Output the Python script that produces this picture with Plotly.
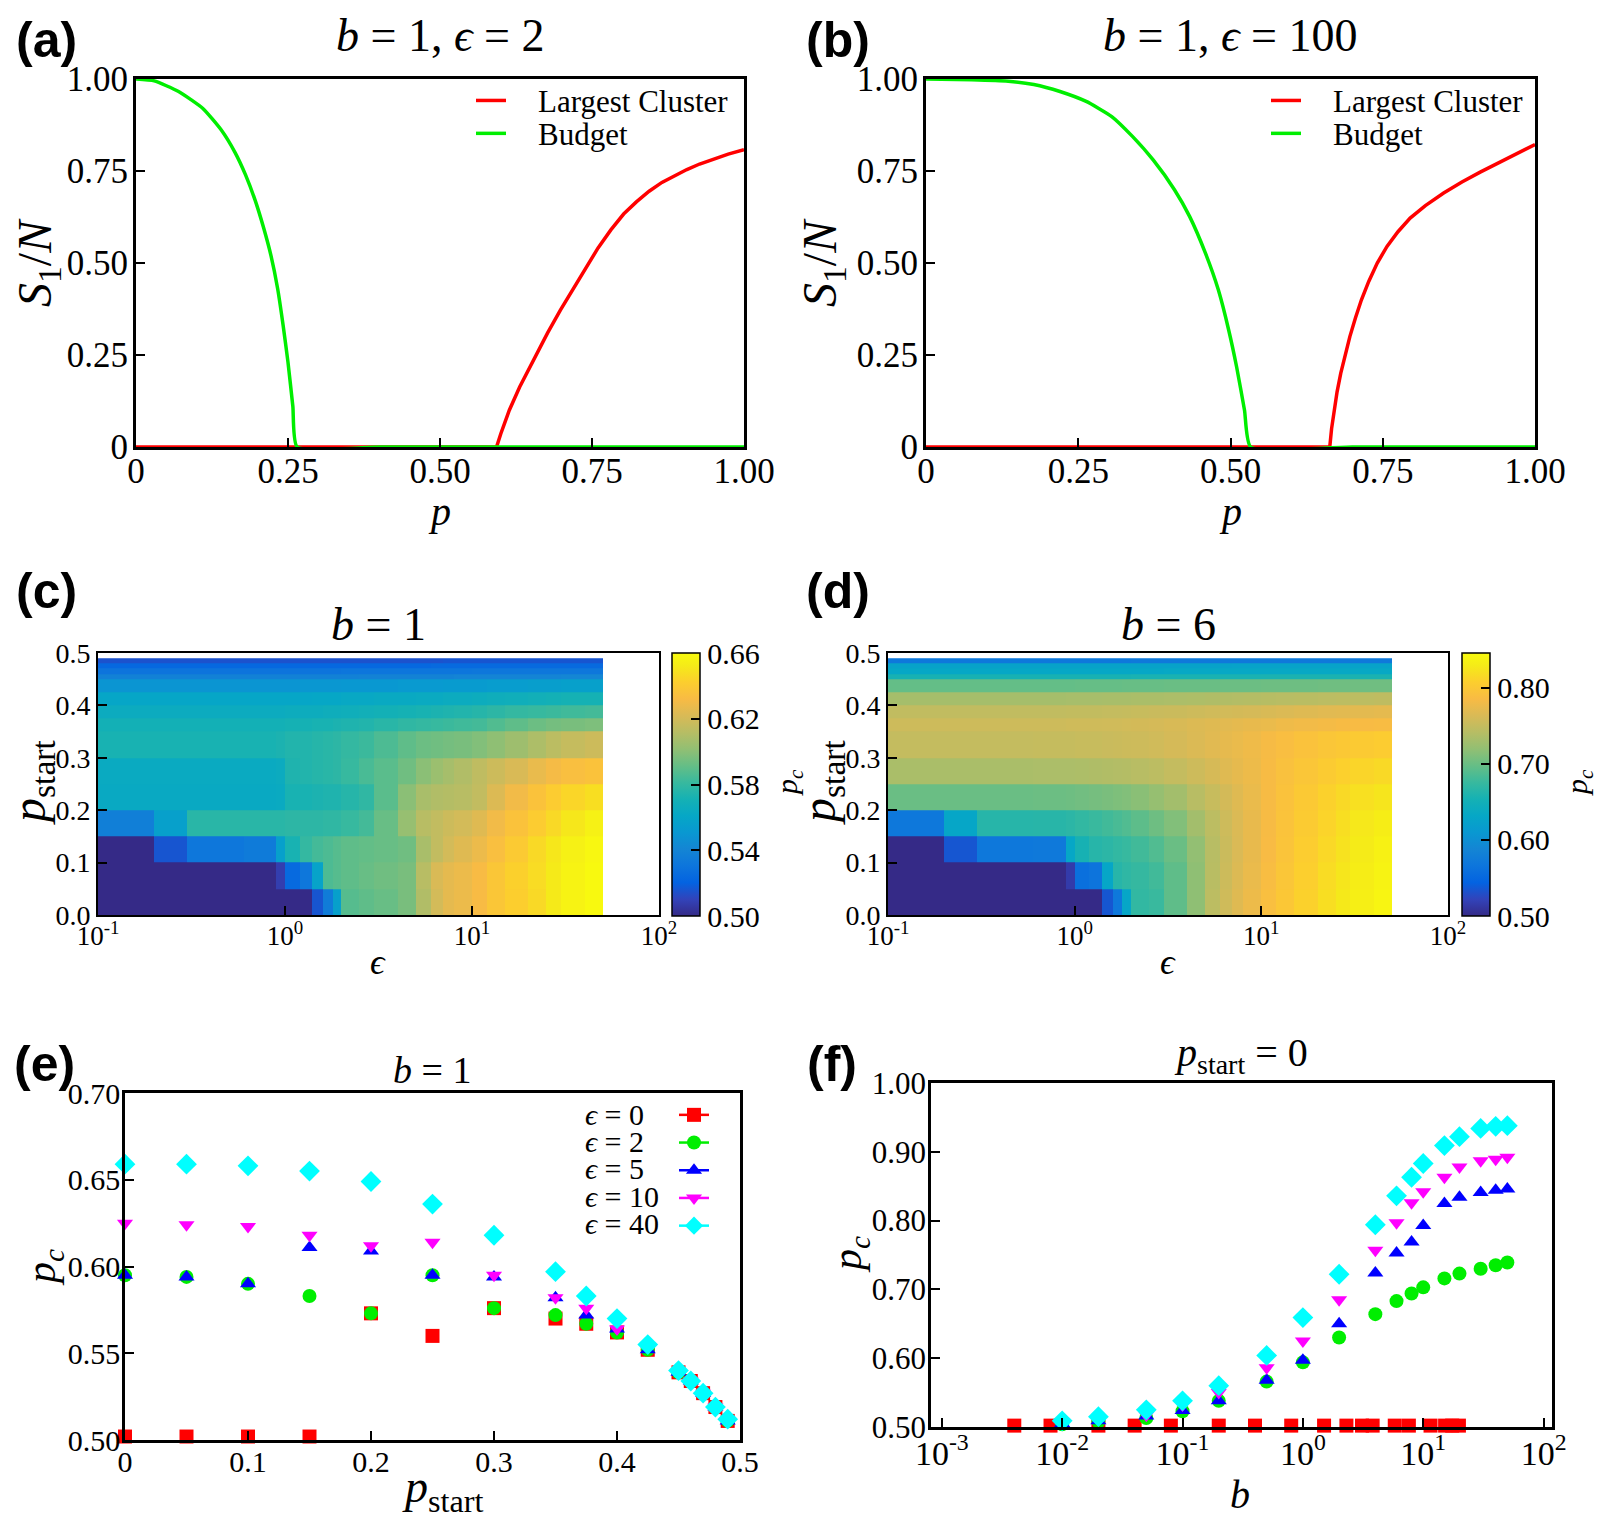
import plotly.graph_objects as go

W, H = 1605, 1522
SERIF = "Liberation Serif, DejaVu Serif, serif"
SANS = "Liberation Sans, Arial, sans-serif"
SP = "\u2005"  # spacing around '='

# ---------------- (a) b=1, eps=2 ----------------
a_lc_p = [0, 0.2, 0.4, 0.593, 0.600, 0.607, 0.614, 0.631, 0.656, 0.677, 0.698, 0.718, 0.739, 0.760,
          0.781, 0.802, 0.823, 0.844, 0.865, 0.885, 0.906, 0.927, 0.948, 0.974, 1.0]
a_lc_s = [0, 0, 0, 0, 0.036, 0.069, 0.100, 0.163, 0.245, 0.310, 0.372, 0.428, 0.485, 0.541,
          0.590, 0.633, 0.666, 0.695, 0.719, 0.737, 0.754, 0.769, 0.782, 0.796, 0.808]
a_bu_p = [0, 0.03, 0.07, 0.11, 0.14, 0.163, 0.18, 0.196, 0.21, 0.222, 0.233, 0.242, 0.25, 0.258, 0.265, 0.4, 0.6, 0.8, 1.0]
a_bu_s = [1.0, 0.995, 0.966, 0.92, 0.862, 0.80, 0.74, 0.67, 0.595, 0.52, 0.43, 0.33, 0.23, 0.11, 0.0, 0, 0, 0, 0]

# ---------------- (b) b=1, eps=100 ----------------
b_lc_p = [0, 0.3, 0.6, 0.663, 0.666, 0.670, 0.675, 0.681, 0.688, 0.696, 0.705, 0.715, 0.727, 0.741,
          0.757, 0.775, 0.795, 0.820, 0.850, 0.880, 0.910, 0.940, 0.970, 1.0]
b_lc_s = [0, 0, 0, 0, 0.05, 0.10, 0.15, 0.20, 0.25, 0.30, 0.35, 0.40, 0.45, 0.50,
          0.545, 0.585, 0.622, 0.656, 0.690, 0.720, 0.747, 0.772, 0.797, 0.822]
b_bu_p = [0, 0.075, 0.135, 0.177, 0.22, 0.263, 0.305, 0.339, 0.373, 0.408, 0.433, 0.459, 0.48, 0.497, 0.51, 0.523, 0.533, 0.7, 1.0]
b_bu_s = [1.0, 0.998, 0.994, 0.985, 0.966, 0.939, 0.898, 0.844, 0.78, 0.699, 0.626, 0.526, 0.427, 0.318, 0.218, 0.10, 0.0, 0, 0]

# ---------------- (c),(d) heatmaps: p_c(eps, p_start) ----------------
hm_eps_edges = [0.1, 0.2, 0.3, 0.6, 0.9, 1.0, 1.2, 1.4, 1.6, 1.8, 2.0, 2.5, 3.0, 4.0, 5.0,
                6.0, 7.0, 8.0, 10, 12, 15, 20, 25, 30, 40, 50]
hm_pstart_edges = [0, 0.05, 0.1, 0.15, 0.2, 0.25, 0.3, 0.35, 0.375, 0.4, 0.425, 0.45, 0.46, 0.47, 0.48, 0.49]

c_pc = [
    [0.50, 0.50, 0.50, 0.50, 0.50, 0.50, 0.50, 0.516, 0.535, 0.556, 0.588, 0.590, 0.592, 0.596, 0.610, 0.620, 0.626, 0.628, 0.632, 0.638, 0.642, 0.646, 0.652, 0.656, 0.659],
    [0.50, 0.50, 0.50, 0.50, 0.508, 0.524, 0.532, 0.558, 0.586, 0.588, 0.590, 0.592, 0.594, 0.596, 0.612, 0.622, 0.626, 0.628, 0.632, 0.638, 0.643, 0.647, 0.652, 0.656, 0.659],
    [0.50, 0.516, 0.532, 0.534, 0.556, 0.572, 0.580, 0.584, 0.586, 0.588, 0.590, 0.591, 0.592, 0.594, 0.608, 0.615, 0.620, 0.624, 0.628, 0.634, 0.640, 0.646, 0.651, 0.655, 0.658],
    [0.537, 0.556, 0.577, 0.577, 0.577, 0.578, 0.578, 0.578, 0.579, 0.579, 0.581, 0.584, 0.592, 0.603, 0.612, 0.615, 0.618, 0.620, 0.624, 0.630, 0.636, 0.641, 0.646, 0.651, 0.655],
    [0.563, 0.563, 0.563, 0.563, 0.564, 0.572, 0.572, 0.573, 0.574, 0.574, 0.576, 0.579, 0.589, 0.600, 0.608, 0.610, 0.611, 0.612, 0.615, 0.623, 0.630, 0.636, 0.641, 0.645, 0.648],
    [0.564, 0.564, 0.564, 0.564, 0.565, 0.574, 0.575, 0.576, 0.577, 0.578, 0.581, 0.585, 0.589, 0.594, 0.600, 0.604, 0.607, 0.610, 0.614, 0.618, 0.622, 0.627, 0.631, 0.634, 0.636],
    [0.572, 0.572, 0.572, 0.572, 0.573, 0.575, 0.575, 0.576, 0.577, 0.578, 0.580, 0.582, 0.586, 0.590, 0.593, 0.594, 0.595, 0.596, 0.598, 0.601, 0.605, 0.609, 0.613, 0.616, 0.618],
    [0.570, 0.570, 0.570, 0.570, 0.570, 0.571, 0.571, 0.572, 0.572, 0.573, 0.574, 0.575, 0.577, 0.579, 0.580, 0.581, 0.582, 0.583, 0.584, 0.587, 0.590, 0.593, 0.595, 0.596, 0.597],
    [0.565, 0.565, 0.565, 0.565, 0.565, 0.566, 0.566, 0.566, 0.567, 0.567, 0.568, 0.569, 0.570, 0.571, 0.572, 0.573, 0.574, 0.575, 0.576, 0.578, 0.580, 0.581, 0.582, 0.583, 0.584],
    [0.560, 0.560, 0.560, 0.560, 0.560, 0.560, 0.560, 0.561, 0.561, 0.561, 0.562, 0.562, 0.563, 0.563, 0.564, 0.564, 0.565, 0.565, 0.566, 0.567, 0.568, 0.569, 0.570, 0.571, 0.571],
    [0.549, 0.549, 0.549, 0.549, 0.549, 0.549, 0.550, 0.550, 0.550, 0.550, 0.551, 0.551, 0.551, 0.552, 0.552, 0.552, 0.553, 0.553, 0.553, 0.554, 0.554, 0.555, 0.555, 0.556, 0.556],
    [0.538, 0.538, 0.538, 0.538, 0.538, 0.538, 0.538, 0.538, 0.538, 0.538, 0.538, 0.539, 0.539, 0.539, 0.539, 0.539, 0.539, 0.540, 0.540, 0.540, 0.540, 0.540, 0.540, 0.541, 0.541],
    [0.530, 0.530, 0.530, 0.530, 0.530, 0.530, 0.530, 0.530, 0.530, 0.530, 0.531, 0.531, 0.531, 0.531, 0.531, 0.531, 0.531, 0.531, 0.532, 0.532, 0.532, 0.532, 0.532, 0.532, 0.532],
    [0.523, 0.523, 0.523, 0.523, 0.523, 0.523, 0.523, 0.523, 0.523, 0.523, 0.523, 0.523, 0.523, 0.523, 0.523, 0.524, 0.524, 0.524, 0.524, 0.524, 0.524, 0.524, 0.524, 0.524, 0.524],
    [0.515, 0.515, 0.515, 0.515, 0.515, 0.515, 0.515, 0.515, 0.515, 0.515, 0.515, 0.515, 0.515, 0.515, 0.515, 0.515, 0.516, 0.516, 0.516, 0.516, 0.516, 0.516, 0.516, 0.516, 0.516],
]

d_pc = [
    [0.50, 0.50, 0.50, 0.50, 0.50, 0.50, 0.50, 0.535, 0.570, 0.630, 0.672, 0.676, 0.695, 0.718, 0.745, 0.757, 0.768, 0.778, 0.790, 0.800, 0.810, 0.820, 0.828, 0.834, 0.840],
    [0.50, 0.50, 0.50, 0.50, 0.515, 0.560, 0.565, 0.630, 0.665, 0.670, 0.674, 0.680, 0.695, 0.718, 0.743, 0.755, 0.766, 0.776, 0.788, 0.798, 0.808, 0.818, 0.826, 0.832, 0.838],
    [0.50, 0.535, 0.570, 0.572, 0.632, 0.655, 0.665, 0.668, 0.672, 0.675, 0.680, 0.688, 0.700, 0.720, 0.742, 0.754, 0.764, 0.774, 0.786, 0.796, 0.806, 0.815, 0.823, 0.830, 0.836],
    [0.570, 0.630, 0.665, 0.666, 0.668, 0.672, 0.676, 0.680, 0.684, 0.688, 0.694, 0.702, 0.712, 0.730, 0.745, 0.756, 0.765, 0.774, 0.785, 0.795, 0.804, 0.812, 0.820, 0.827, 0.832],
    [0.700, 0.700, 0.700, 0.701, 0.702, 0.704, 0.706, 0.708, 0.710, 0.712, 0.716, 0.722, 0.730, 0.742, 0.752, 0.760, 0.768, 0.776, 0.785, 0.794, 0.802, 0.810, 0.816, 0.821, 0.825],
    [0.734, 0.734, 0.734, 0.735, 0.735, 0.736, 0.737, 0.738, 0.739, 0.740, 0.742, 0.745, 0.750, 0.756, 0.762, 0.768, 0.773, 0.778, 0.785, 0.792, 0.798, 0.804, 0.809, 0.813, 0.816],
    [0.750, 0.750, 0.750, 0.751, 0.751, 0.752, 0.752, 0.753, 0.754, 0.755, 0.756, 0.758, 0.761, 0.765, 0.769, 0.773, 0.776, 0.779, 0.784, 0.789, 0.794, 0.798, 0.801, 0.803, 0.805],
    [0.756, 0.756, 0.756, 0.756, 0.757, 0.757, 0.757, 0.758, 0.758, 0.759, 0.760, 0.761, 0.763, 0.766, 0.768, 0.770, 0.772, 0.774, 0.776, 0.779, 0.781, 0.783, 0.785, 0.786, 0.787],
    [0.748, 0.748, 0.748, 0.748, 0.749, 0.749, 0.749, 0.750, 0.750, 0.751, 0.752, 0.753, 0.754, 0.756, 0.758, 0.759, 0.760, 0.761, 0.763, 0.765, 0.767, 0.769, 0.770, 0.771, 0.772],
    [0.731, 0.731, 0.731, 0.731, 0.732, 0.732, 0.732, 0.733, 0.733, 0.733, 0.734, 0.734, 0.735, 0.736, 0.737, 0.738, 0.739, 0.740, 0.741, 0.742, 0.743, 0.744, 0.745, 0.745, 0.746],
    [0.697, 0.697, 0.697, 0.697, 0.697, 0.698, 0.698, 0.698, 0.698, 0.699, 0.699, 0.699, 0.700, 0.700, 0.700, 0.701, 0.701, 0.701, 0.702, 0.702, 0.702, 0.703, 0.703, 0.703, 0.703],
    [0.655, 0.655, 0.655, 0.655, 0.655, 0.655, 0.655, 0.655, 0.655, 0.655, 0.656, 0.656, 0.656, 0.656, 0.656, 0.656, 0.656, 0.656, 0.657, 0.657, 0.657, 0.657, 0.657, 0.657, 0.657],
    [0.632, 0.632, 0.632, 0.632, 0.632, 0.632, 0.632, 0.632, 0.632, 0.632, 0.632, 0.632, 0.633, 0.633, 0.633, 0.633, 0.633, 0.633, 0.633, 0.633, 0.633, 0.633, 0.633, 0.633, 0.633],
    [0.625, 0.625, 0.625, 0.625, 0.625, 0.625, 0.625, 0.625, 0.625, 0.625, 0.625, 0.625, 0.625, 0.625, 0.625, 0.625, 0.626, 0.626, 0.626, 0.626, 0.626, 0.626, 0.626, 0.626, 0.626],
    [0.570, 0.570, 0.570, 0.570, 0.570, 0.570, 0.570, 0.570, 0.570, 0.570, 0.571, 0.571, 0.571, 0.571, 0.571, 0.571, 0.571, 0.571, 0.572, 0.572, 0.572, 0.572, 0.572, 0.572, 0.572],
]

# ---------------- (e) b=1: p_c vs p_start ----------------
e_pstart = [0, 0.05, 0.1, 0.15, 0.2, 0.25, 0.3, 0.35, 0.375, 0.4, 0.425, 0.45, 0.46, 0.47, 0.48, 0.49]
e_eps0 = [0.502, 0.502, 0.502, 0.502, 0.573, 0.560, 0.576, 0.570, 0.567, 0.562, 0.552, 0.539, 0.534, 0.527, 0.519, 0.511]
e_eps2 = [0.595, 0.594, 0.590, 0.583, 0.573, 0.595, 0.576, 0.572, 0.567, 0.562, 0.552, 0.539, 0.534, 0.527, 0.519, 0.511]
e_eps5 = [0.595, 0.594, 0.590, 0.611, 0.609, 0.595, 0.594, 0.582, 0.572, 0.564, 0.552, 0.539, 0.534, 0.527, 0.519, 0.511]
e_eps10 = [0.625, 0.624, 0.623, 0.618, 0.612, 0.614, 0.595, 0.582, 0.576, 0.564, 0.554, 0.539, 0.534, 0.527, 0.519, 0.511]
e_eps40 = [0.659, 0.659, 0.658, 0.655, 0.649, 0.636, 0.618, 0.597, 0.583, 0.570, 0.555, 0.540, 0.534, 0.527, 0.519, 0.512]

# ---------------- (f) p_start=0: p_c vs b ----------------
f_b_eps0 = [0.004, 0.008, 0.02, 0.04, 0.08, 0.2, 0.4, 0.8, 1.5, 2.3, 3.1, 3.8, 5.8, 7.6, 11.5, 15.2, 17.4, 19.8]
f_pc_eps0 = [0.502] * 18
f_b = [0.01, 0.02, 0.05, 0.1, 0.2, 0.5, 1, 2, 4, 6, 8, 10, 15, 20, 30, 40, 50]
f_pc_eps2 = [0.504, 0.508, 0.513, 0.523, 0.538, 0.566, 0.594, 0.630, 0.664, 0.683, 0.694, 0.703, 0.716, 0.723, 0.730, 0.735, 0.739]
f_pc_eps5 = [0.505, 0.509, 0.516, 0.524, 0.538, 0.568, 0.597, 0.650, 0.724, 0.753, 0.769, 0.793, 0.825, 0.834, 0.841, 0.844, 0.846]
f_pc_eps10 = [0.507, 0.511, 0.517, 0.532, 0.550, 0.586, 0.625, 0.685, 0.757, 0.797, 0.826, 0.842, 0.863, 0.878, 0.887, 0.889, 0.892]
f_pc_eps40 = [0.509, 0.515, 0.525, 0.538, 0.560, 0.604, 0.659, 0.722, 0.794, 0.836, 0.863, 0.883, 0.909, 0.922, 0.934, 0.937, 0.938]

eps_labels = ["0", "2", "5", "10", "40"]
series_colors = ["#ff0000", "#00ee00", "#0000ff", "#ff00ff", "#00ffff"]
series_symbols = ["square", "circle", "triangle-up", "triangle-down", "diamond"]
series_sizes = [14, 14, 14, 14, 16]
curve_names = ["Largest Cluster", "Budget"]
curve_colors = ["#ff0000", "#00ee00"]

# parula colormap (subsampled)
PARULA = [
    [0 / 63, "rgb(53,42,135)"], [4 / 63, "rgb(50,67,186)"], [8 / 63, "rgb(3,99,225)"],
    [12 / 63, "rgb(13,117,220)"], [16 / 63, "rgb(20,133,212)"], [20 / 63, "rgb(9,152,209)"],
    [24 / 63, "rgb(6,167,198)"], [28 / 63, "rgb(21,177,180)"], [32 / 63, "rgb(56,185,158)"],
    [36 / 63, "rgb(101,190,134)"], [40 / 63, "rgb(146,191,115)"], [44 / 63, "rgb(183,189,100)"],
    [48 / 63, "rgb(217,186,86)"], [52 / 63, "rgb(248,187,68)"], [56 / 63, "rgb(252,206,46)"],
    [60 / 63, "rgb(245,235,24)"], [63 / 63, "rgb(249,251,14)"],
]


def dx(x0, x1):
    return [x0 / W, x1 / W]


def dy(y0, y1):
    return [1 - y1 / H, 1 - y0 / H]


def axis(domain, size, lw=2.5, standoff=0, **kw):
    d = dict(domain=domain, showline=True, linecolor="black", linewidth=lw, mirror=True,
             ticks="inside", ticklen=9, tickwidth=2, tickcolor="black", showgrid=False,
             zeroline=False, automargin=False, ticklabelstandoff=standoff,
             tickfont=dict(family=SERIF, size=size, color="black"))
    d.update(kw)
    return d


fig = go.Figure()

# (a), (b) curves
for xs, ys, nm, col, shp, xa, ya in [
    (a_lc_p, a_lc_s, curve_names[0], curve_colors[0], "linear", "x", "y"),
    (a_bu_p, a_bu_s, curve_names[1], curve_colors[1], "spline", "x", "y"),
    (b_lc_p, b_lc_s, curve_names[0], curve_colors[0], "linear", "x2", "y2"),
    (b_bu_p, b_bu_s, curve_names[1], curve_colors[1], "spline", "x2", "y2"),
]:
    fig.add_trace(go.Scatter(x=xs, y=ys, mode="lines", name=nm,
                             line=dict(color=col, width=3.5, shape=shp, smoothing=0.5),
                             xaxis=xa, yaxis=ya, showlegend=False))
# legend keys for (a), (b)  (labels written as annotations)
for lg in ["legend", "legend2"]:
    for col in curve_colors:
        fig.add_trace(go.Scatter(x=[None], y=[None], mode="lines", name=" ",
                                 line=dict(color=col, width=3.5), xaxis="x", yaxis="y", legend=lg))

# (c), (d)
fig.add_trace(go.Heatmap(x=hm_eps_edges, y=hm_pstart_edges, z=c_pc, coloraxis="coloraxis",
                         xaxis="x3", yaxis="y3", showlegend=False))
fig.add_trace(go.Heatmap(x=hm_eps_edges, y=hm_pstart_edges, z=d_pc, coloraxis="coloraxis2",
                         xaxis="x4", yaxis="y4", showlegend=False))

# (e)
e_series = [e_eps0, e_eps2, e_eps5, e_eps10, e_eps40]
for lab, ys, col, sym, sz in zip(eps_labels, e_series, series_colors, series_symbols, series_sizes):
    fig.add_trace(go.Scatter(x=e_pstart, y=ys, mode="markers", name="ϵ = " + lab,
                             marker=dict(color=col, symbol=sym, size=sz, line=dict(width=0)),
                             cliponaxis=False, showlegend=False, xaxis="x5", yaxis="y5"))
# legend keys for (e) (symbols only, labels written as annotations to their left)
for col, sym in zip(series_colors, series_symbols):
    fig.add_trace(go.Scatter(x=[None], y=[None], mode="lines+markers", name=" ",
                             line=dict(color=col, width=2.5),
                             marker=dict(color=col, symbol=sym, size=14),
                             xaxis="x5", yaxis="y5", legend="legend3"))

# (f)
fig.add_trace(go.Scatter(x=f_b_eps0, y=f_pc_eps0, mode="markers", name="ϵ = 0",
                         marker=dict(color=series_colors[0], symbol="square", size=14),
                         cliponaxis=False, showlegend=False, xaxis="x6", yaxis="y6"))
for lab, ys, col, sym, sz in zip(eps_labels[1:], [f_pc_eps2, f_pc_eps5, f_pc_eps10, f_pc_eps40],
                                 series_colors[1:], series_symbols[1:], series_sizes[1:]):
    fig.add_trace(go.Scatter(x=f_b, y=ys, mode="markers", name="ϵ = " + lab,
                             marker=dict(color=col, symbol=sym, size=sz, line=dict(width=0)),
                             cliponaxis=False, showlegend=False, xaxis="x6", yaxis="y6"))

p_vals = [0, 0.25, 0.5, 0.75, 1.0]
p_text = ["0", "0.25", "0.50", "0.75", "1.00"]

log_eps_vals = [0.1, 1, 10, 100]
log_eps_text = ["10<sup>-1</sup>", "10<sup>0</sup>", "10<sup>1</sup>", "10<sup>2</sup>"]


def cbar(x, vals):
    return dict(x=x / W, xanchor="left", y=1 - 916 / H, yanchor="bottom",
                len=(916 - 653) / H, lenmode="fraction", thickness=28,
                thicknessmode="pixels", outlinewidth=1.5, outlinecolor="black",
                xpad=0, ypad=0, ticks="inside", ticklen=9, tickwidth=2,
                tickcolor="black", tickvals=vals, ticktext=["%.2f" % v for v in vals],
                tickfont=dict(family=SERIF, size=30, color="black"))


def key_legend(x, y, size):
    return dict(x=x / W, y=1 - y / H, xanchor="left", yanchor="top", bgcolor="rgba(0,0,0,0)",
                font=dict(family=SERIF, size=size, color="black"), tracegroupgap=0)


layout = dict(
    width=W, height=H, margin=dict(l=0, r=0, t=0, b=0, pad=0),
    paper_bgcolor="white", plot_bgcolor="white",
    font=dict(family=SERIF, color="black"),
    xaxis=axis(dx(136, 744), 35, lw=3, standoff=-9, range=[0, 1], tickvals=p_vals, ticktext=p_text, anchor="y"),
    yaxis=axis(dy(79, 447), 35, lw=3, standoff=-2, range=[0, 1], tickvals=p_vals, ticktext=p_text, anchor="x"),
    xaxis2=axis(dx(926, 1535), 35, lw=3, standoff=-9, range=[0, 1], tickvals=p_vals, ticktext=p_text, anchor="y2"),
    yaxis2=axis(dy(79, 447), 35, lw=3, standoff=-2, range=[0, 1], tickvals=p_vals, ticktext=p_text, anchor="x2"),
    xaxis3=axis(dx(98, 659), 27, lw=2, standoff=-4, type="log", range=[-1, 2], tickvals=log_eps_vals,
                ticktext=log_eps_text, anchor="y3"),
    yaxis3=axis(dy(653, 915), 28, lw=2, range=[0, 0.5], tickvals=[0, 0.1, 0.2, 0.3, 0.4, 0.5],
                ticktext=["0.0", "0.1", "0.2", "0.3", "0.4", "0.5"], anchor="x3"),
    xaxis4=axis(dx(888, 1448), 27, lw=2, standoff=-4, type="log", range=[-1, 2], tickvals=log_eps_vals,
                ticktext=log_eps_text, anchor="y4"),
    yaxis4=axis(dy(653, 915), 28, lw=2, range=[0, 0.5], tickvals=[0, 0.1, 0.2, 0.3, 0.4, 0.5],
                ticktext=["0.0", "0.1", "0.2", "0.3", "0.4", "0.5"], anchor="x4"),
    xaxis5=axis(dx(125, 740), 30, standoff=-7, range=[0, 0.5], tickvals=[0, 0.1, 0.2, 0.3, 0.4, 0.5],
                ticktext=["0", "0.1", "0.2", "0.3", "0.4", "0.5"], anchor="y5"),
    yaxis5=axis(dy(1093, 1440), 30, standoff=-4, range=[0.5, 0.7], tickvals=[0.5, 0.55, 0.6, 0.65, 0.7],
                ticktext=["0.50", "0.55", "0.60", "0.65", "0.70"], anchor="x5"),
    xaxis6=axis(dx(931, 1552), 34, standoff=-6, type="log", range=[-3.09, 2.07],
                tickvals=[0.001, 0.01, 0.1, 1, 10, 100],
                ticktext=["10<sup>-3</sup>", "10<sup>-2</sup>", "10<sup>-1</sup>", "10<sup>0</sup>",
                          "10<sup>1</sup>", "10<sup>2</sup>"], anchor="y6"),
    yaxis6=axis(dy(1083, 1427), 31, standoff=-4, range=[0.5, 1.0], tickvals=[0.5, 0.6, 0.7, 0.8, 0.9, 1.0],
                ticktext=["0.50", "0.60", "0.70", "0.80", "0.90", "1.00"], anchor="x6"),
    coloraxis=dict(colorscale=PARULA, cmin=0.50, cmax=0.66,
                   colorbar=cbar(672, [0.50, 0.54, 0.58, 0.62, 0.66])),
    coloraxis2=dict(colorscale=PARULA, cmin=0.50, cmax=0.846,
                    colorbar=cbar(1462, [0.50, 0.60, 0.70, 0.80])),
    legend=key_legend(471, 79, 23),
    legend2=key_legend(1266, 79, 23),
    legend3=key_legend(674, 1096, 19),
    showlegend=True,
)
fig.update_layout(**layout)

ann = []


def label(text, x, y, size, angle=0, family=SERIF, xanchor="center"):
    ann.append(dict(text=text, x=x / W, y=1 - y / H, xref="paper", yref="paper", showarrow=False,
                    xanchor=xanchor, yanchor="middle", textangle=angle,
                    font=dict(family=family, size=size, color="black")))


def eq(lhs, rhs):
    return lhs + SP + "=" + SP + rhs


# panel letters
for t, x, y in [("(a)", 46, 40), ("(b)", 838, 40), ("(c)", 46, 591), ("(d)", 838, 591),
                ("(e)", 44, 1064), ("(f)", 832, 1064)]:
    label("<b>" + t + "</b>", x, y, 50, family=SANS)

# titles
label(eq("<i>b</i>", "1,") + SP + eq("<i>ϵ</i>", "2"), 440, 36, 46)
label(eq("<i>b</i>", "1,") + SP + eq("<i>ϵ</i>", "100"), 1230, 36, 46)
label(eq("<i>b</i>", "1"), 378, 625, 46)
label(eq("<i>b</i>", "6"), 1168, 625, 46)
label(eq("<i>b</i>", "1"), 432, 1070, 38)
label(eq("<i>p</i><sub>start</sub>", "0"), 1241, 1055, 40)

# axis titles
label("<i>p</i>", 440, 511, 40)
label("<i>p</i>", 1230, 511, 40)
label("<i>S</i><sub>1</sub>/<i>N</i>", 38, 263, 48, angle=-90)
label("<i>S</i><sub>1</sub>/<i>N</i>", 823, 263, 48, angle=-90)
label("<i>ϵ</i>", 378, 962, 36)
label("<i>ϵ</i>", 1168, 962, 36)
label("<i>p</i><sub>start</sub>", 32, 783, 48, angle=-90)
label("<i>p</i><sub>start</sub>", 822, 783, 48, angle=-90)
label("<i>p<sub>c</sub></i>", 789, 783, 30, angle=-90)
label("<i>p<sub>c</sub></i>", 1579, 783, 30, angle=-90)
label("<i>p</i><sub>start</sub>", 442, 1490, 46)
label("<i>p<sub>c</sub></i>", 44, 1268, 42, angle=-90)
label("<i>b</i>", 1240, 1494, 40)
label("<i>p<sub>c</sub></i>", 850, 1254, 42, angle=-90)

# legend labels for (a), (b)
for i, nm in enumerate(curve_names):
    label(nm, 536, 102 + i * 33, 31, xanchor="left")
    label(nm, 1331, 102 + i * 33, 31, xanchor="left")

# legend labels for (e)
for i, lab in enumerate(eps_labels):
    label(eq("<i>ϵ</i>", lab), 583, 1114 + i * 27.4, 30, xanchor="left")

fig.update_layout(annotations=ann)
fig.write_html("out.html")
